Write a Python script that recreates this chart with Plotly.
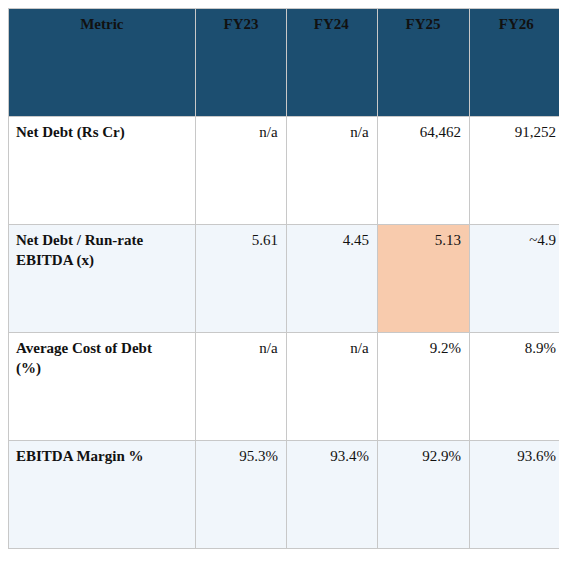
import plotly.graph_objects as go

header = ["Metric", "FY23", "FY24", "FY25", "FY26"]
metrics = ["Net Debt (Rs Cr)", "Net Debt / Run-rate<br>EBITDA (x)",
           "Average Cost of Debt<br>(%)", "EBITDA Margin %"]
fy23 = ["n/a", "5.61", "n/a", "95.3%"]
fy24 = ["n/a", "4.45", "n/a", "93.4%"]
fy25 = ["64,462", "5.13", "9.2%", "92.9%"]
fy26 = ["91,252", "~4.9", "8.9%", "93.6%"]

row_bg = ["#ffffff", "#f1f6fb", "#ffffff", "#f1f6fb"]
highlight = "#f8cbad"
fills = [row_bg, row_bg, row_bg,
         [row_bg[0], highlight, row_bg[2], row_bg[3]], row_bg]

# plotly tables have no vertical centering, so pad with blank lines
two_line_rows = [1, 2]


def pad(col):
    out = []
    for i, v in enumerate(col):
        s = "<br><br>" + v
        if i in two_line_rows:
            s += "<br>"
        out.append(s)
    return out


fig = go.Figure(go.Table(
    domain=dict(x=[0, 556/567], y=[0, 1]),
    columnwidth=[190, 91, 92, 93, 96],
    header=dict(
        values=["<br><br><b>%s</b>" % h for h in header],
        fill_color="#1c4e70",
        line_color="#c8c8c8",
        align="center",
        height=108,
        font=dict(family="Liberation Serif", size=15, color="#111111"),
    ),
    cells=dict(
        values=[pad(["<b>%s</b>" % m for m in metrics]), pad(fy23), pad(fy24),
                pad(fy25), pad(fy26)],
        fill_color=fills,
        line_color="#c8c8c8",
        align=["left", "right", "right", "right", "right"],
        height=108,
        font=dict(family="Liberation Serif", size=15, color="#111111"),
    ),
))

fig.update_layout(width=567, height=563, margin=dict(l=0, r=0, t=0, b=0),
                  paper_bgcolor="white")
fig.write_html("out.html")
